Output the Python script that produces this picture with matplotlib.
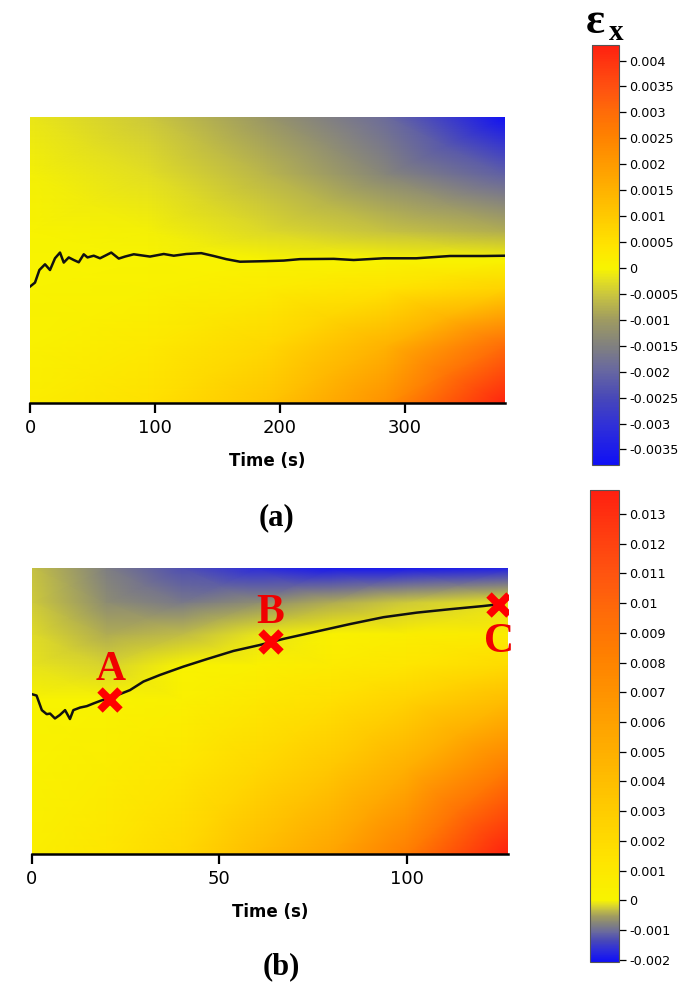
import numpy as np
import matplotlib.pyplot as plt
from matplotlib.colors import LinearSegmentedColormap, TwoSlopeNorm

# ---- panel (a): neutral line and strain field ----
t_a = [0, 4, 7.5, 12, 16, 20, 24, 27, 31, 35, 39, 43, 46, 51, 56, 61, 65, 71, 76,
       83, 96, 107, 115, 125, 137, 147, 157, 168, 189, 203, 216, 243, 259, 283,
       309, 336, 363, 380]
y_a = [0.407, 0.421, 0.465, 0.485, 0.465, 0.506, 0.526, 0.491, 0.509, 0.500,
       0.492, 0.520, 0.509, 0.515, 0.506, 0.517, 0.526, 0.505, 0.512, 0.520,
       0.512, 0.521, 0.515, 0.521, 0.524, 0.514, 0.503, 0.494, 0.496, 0.498,
       0.503, 0.504, 0.500, 0.506, 0.506, 0.514, 0.514, 0.515]

grid_t_a = [0, 95, 190, 285, 380]
grid_y_a = [0, 0.2, 0.4, 0.5, 0.6, 0.8, 1.0]
strain_a = [[0.20, 0.50, 1.10, 2.20, 4.20],
            [0.10, 0.30, 0.70, 1.50, 3.00],
            [0.02, 0.10, 0.25, 0.45, 0.80],
            [0.00, 0.00, 0.00, 0.00, 0.00],
            [0.00, -0.05, -0.30, -0.55, -0.80],
            [-0.05, -0.25, -0.70, -1.40, -2.10],
            [-0.15, -0.50, -1.10, -1.90, -3.80]]

# ---- panel (b): neutral line, points, strain field ----
t_b = [0, 1.3, 2.7, 4, 4.9, 6.2, 7.5, 8.9, 10.2, 11.1, 12.9, 14.7, 16.4, 18.2,
       20.9, 23.5, 26.2, 29.8, 34.2, 40.4, 46.6, 53.8, 60.9, 67.1, 76, 84.9,
       93.8, 102.7, 111.6, 120.4, 124.4]
y_b = [0.559, 0.554, 0.503, 0.489, 0.491, 0.474, 0.486, 0.503, 0.472, 0.503,
       0.512, 0.517, 0.526, 0.535, 0.547, 0.559, 0.573, 0.603, 0.626, 0.655,
       0.681, 0.710, 0.731, 0.752, 0.778, 0.804, 0.828, 0.844, 0.856, 0.867,
       0.873]

pt_names = ['A', 'B', 'C']
pt_t = [21.0, 63.7, 124.6]
pt_y = [0.540, 0.742, 0.871]

grid_t_b = [0, 20, 40, 60, 80, 100, 127]
grid_y_b = [0, 0.3, 0.54, 0.66, 0.77, 0.88, 1.0]
strain_b = [[0.5, 1.2, 2.2, 4.0, 5.8, 8.5, 13.8],
            [0.2, 0.6, 1.2, 2.2, 3.4, 5.0, 8.5],
            [0.0, 0.1, 0.4, 1.0, 1.7, 2.5, 4.0],
            [-0.1, -0.2, 0.0, 0.4, 0.8, 1.2, 2.0],
            [-0.15, -0.45, -0.35, -0.1, 0.2, 0.5, 0.8],
            [-0.25, -0.7, -0.9, -0.7, -0.45, -0.25, -0.1],
            [-0.3, -0.85, -1.3, -1.7, -1.95, -1.95, -1.85]]

# colorbar ticks
cb_ticks_a = [0.004, 0.0035, 0.003, 0.0025, 0.002, 0.0015, 0.001, 0.0005, 0,
              -0.0005, -0.001, -0.0015, -0.002, -0.0025, -0.003, -0.0035]
cb_labels_a = ['0.004', '0.0035', '0.003', '0.0025', '0.002', '0.0015', '0.001',
               '0.0005', '0', '-0.0005', '-0.001', '-0.0015', '-0.002',
               '-0.0025', '-0.003', '-0.0035']
cb_ticks_b = [0.013, 0.012, 0.011, 0.01, 0.009, 0.008, 0.007, 0.006, 0.005,
              0.004, 0.003, 0.002, 0.001, 0, -0.001, -0.002]
cb_labels_b = ['0.013', '0.012', '0.011', '0.01', '0.009', '0.008', '0.007',
               '0.006', '0.005', '0.004', '0.003', '0.002', '0.001', '0',
               '-0.001', '-0.002']

cmap = LinearSegmentedColormap.from_list('strain', [
    (0.0, '#1010f5'), (0.10, '#3030d8'), (0.17, '#4848b8'), (0.24, '#6868a0'),
    (0.30, '#808080'), (0.37, '#a09c60'), (0.43, '#c8c440'), (0.47, '#e4e020'),
    (0.50, '#f8f400'), (0.55, '#ffe400'), (0.60, '#ffd000'), (0.65, '#ffbc00'),
    (0.70, '#ffa800'), (0.75, '#ff9400'), (0.80, '#ff8000'), (0.85, '#ff6c08'),
    (0.90, '#ff5410'), (0.95, '#ff3c10'), (1.0, '#ff2010')])

W, H = 689, 985
fig = plt.figure(figsize=(W / 100, H / 100), dpi=100)


def box(x0, y0, x1, y1):
    # pixel box (top-left origin) -> figure fraction
    return [x0 / W, 1 - y1 / H, (x1 - x0) / W, (y1 - y0) / H]


def panel(rect, tt, yy, gt, gy, field, vmin, vmax, xmax, xticks):
    ax = fig.add_axes(rect)
    norm = TwoSlopeNorm(vcenter=0, vmin=vmin, vmax=vmax)
    mesh = ax.pcolormesh(gt, gy, np.array(field) * 1e-3, shading='gouraud',
                         cmap=cmap, norm=norm, rasterized=True)
    ax.plot(tt, yy, color='#111111', lw=1.8)
    ax.set_xlim(0, xmax)
    ax.set_ylim(0, 1)
    for s in ['left', 'right', 'top']:
        ax.spines[s].set_visible(False)
    ax.spines['bottom'].set_linewidth(1.8)
    ax.set_yticks([])
    ax.set_xticks(xticks)
    ax.tick_params(axis='x', length=7, width=1.6, pad=4.5, labelsize=13)
    for lab in ax.get_xticklabels():
        lab.set_family('DejaVu Sans')
    ax.set_xlabel('Time (s)', fontsize=12, fontweight='bold',
                  family='DejaVu Sans', labelpad=11)
    return ax, mesh


def cbar(mesh, rect, ticks, labels):
    cax = fig.add_axes(rect)
    cb = fig.colorbar(mesh, cax=cax)
    cb.ax.set_yscale('linear')
    cb.set_ticks(ticks)
    cb.set_ticklabels(labels)
    cb.outline.set_linewidth(0.8)
    cb.outline.set_edgecolor('#555555')
    cb.ax.tick_params(length=5, width=0.9, pad=2, labelsize=9.2)
    for lab in cb.ax.get_yticklabels():
        lab.set_family('DejaVu Sans')
    return cb


ax_a, mesh_a = panel(box(30, 117, 505, 403), t_a, y_a, grid_t_a, grid_y_a,
                     strain_a, -0.0038, 0.0043, 380, [0, 100, 200, 300])
ax_b, mesh_b = panel(box(31.7, 568, 508, 854), t_b, y_b, grid_t_b, grid_y_b,
                     strain_b, -0.00206, 0.0138, 127, [0, 50, 100])

ax_b.plot(pt_t, pt_y, 'x', color='#ff0000', ms=15, mew=5.5, zorder=5)
lab_off = [(0, 0.068), (0, 0.067), (0, -0.165)]
for name, t, y, (dx, dy) in zip(pt_names, pt_t, pt_y, lab_off):
    ax_b.text(t + dx, y + dy, name, color='#f00000', fontsize=30,
              fontweight='bold', family='Liberation Serif',
              ha='center', va='baseline', zorder=6)

cbar(mesh_a, box(591.7, 45, 619.3, 465), cb_ticks_a, cb_labels_a)
cbar(mesh_b, box(590, 490, 619.3, 961.7), cb_ticks_b, cb_labels_b)

# colorbar title epsilon_x
fig.text(586 / W, 1 - 33 / H, 'ε', fontsize=32, fontweight='bold',
         family='Liberation Serif', va='baseline')
fig.text(609 / W, 1 - 40 / H, 'x', fontsize=21, fontweight='bold',
         family='Liberation Serif', va='baseline')

# panel captions
fig.text(276.7 / W, 1 - 518 / H, '(a)', fontsize=22, fontweight='bold',
         family='Liberation Serif', ha='center', va='center')
fig.text(281.7 / W, 1 - 967 / H, '(b)', fontsize=22, fontweight='bold',
         family='Liberation Serif', ha='center', va='center')

fig.savefig('out.png', dpi=100)
